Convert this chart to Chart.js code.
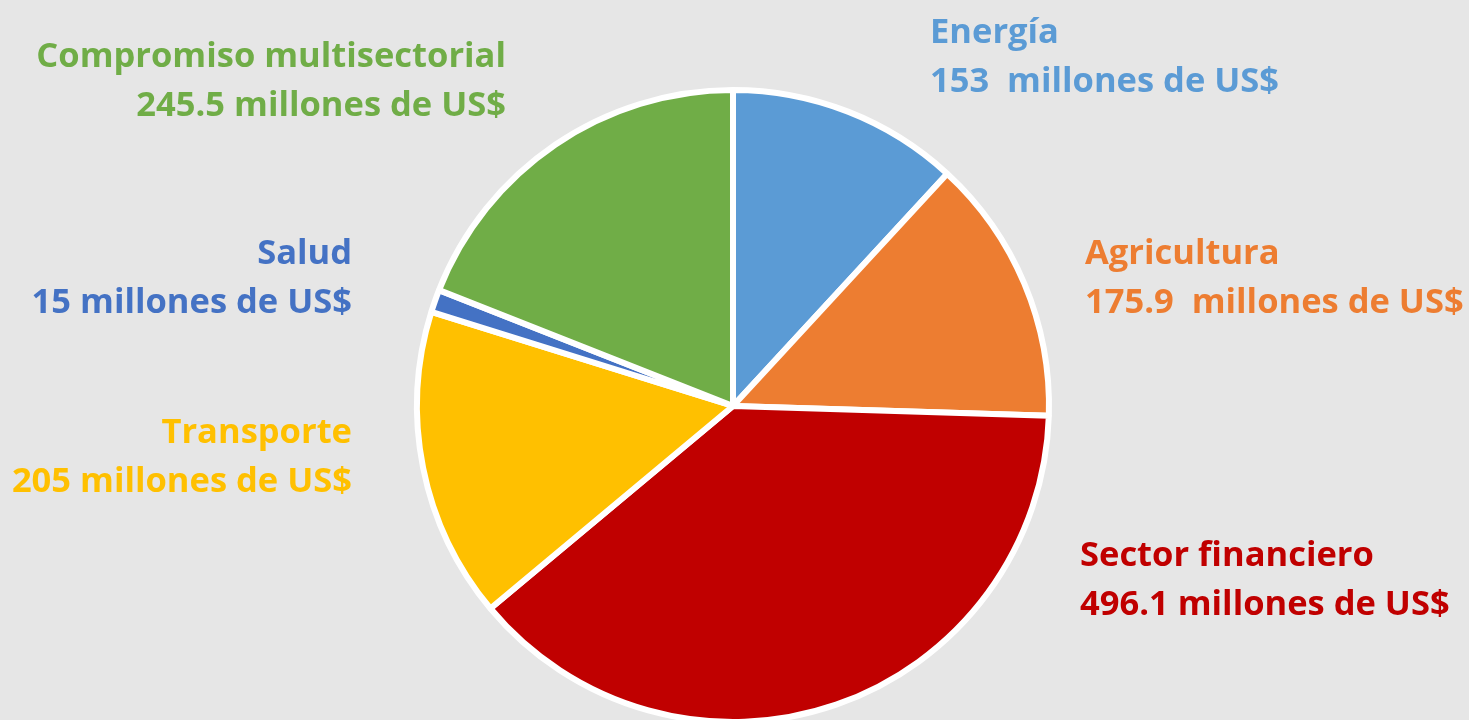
<!DOCTYPE html>
<html>
<head>
<meta charset="utf-8">
<script src="https://cdn.jsdelivr.net/npm/chart.js@4"></script>
<style>
  html, body { margin: 0; padding: 0; background: #e6e6e6; }
  #wrap { position: relative; width: 1469px; height: 720px; overflow: hidden; }
  #pie { position: absolute; left: 0; top: 0; }
  .lbl { position: absolute; font-family: "Open Sans", sans-serif; font-weight: 700;
         font-size: 34.5px; line-height: 48.5px; white-space: pre; }
</style>
</head>
<body>
<div id="wrap">
  <canvas id="pie" width="1469" height="720"></canvas>
</div>
<script>
// sectores y montos (millones de US$)
const sectors = ['Energía', 'Agricultura', 'Sector financiero', 'Transporte', 'Salud', 'Compromiso multisectorial'];
const amounts = [153, 175.9, 496.1, 205, 15, 245.5];
const amountText = ['153 ', '175.9 ', '496.1', '205', '15', '245.5'];
const colors = ['#5b9bd5', '#ed7d31', '#c00000', '#ffc000', '#4472c4', '#70ad47'];

// donde va cada etiqueta (x, y de la primera linea, alineacion)
const labelPos = [
  { x: 930, y: 6, align: 'left' },
  { x: 1085, y: 227, align: 'left' },
  { x: 1080, y: 529, align: 'left' },
  { x: 352, y: 406, align: 'right' },
  { x: 352, y: 227, align: 'right' },
  { x: 506, y: 30, align: 'right' }
];

const wrap = document.getElementById('wrap');
sectors.forEach(function (name, i) {
  const d = document.createElement('div');
  d.className = 'lbl';
  d.style.color = colors[i];
  d.style.top = labelPos[i].y + 'px';
  d.style.textAlign = labelPos[i].align;
  if (labelPos[i].align === 'left') {
    d.style.left = labelPos[i].x + 'px';
  } else {
    d.style.right = (1469 - labelPos[i].x) + 'px';
  }
  d.textContent = name + '\n' + amountText[i] + ' millones de US$';
  wrap.appendChild(d);
});

const pieCtx = document.getElementById('pie');
const pieChart = new Chart(pieCtx, {
  type: 'pie',
  data: {
    labels: sectors,
    datasets: [{
      data: amounts,
      backgroundColor: colors,
      borderColor: '#ffffff',
      borderWidth: 6
    }]
  },
  options: {
    responsive: false,
    animation: false,
    radius: 316,
    layout: { padding: { left: 0, right: 3, top: 92, bottom: 0 } },
    plugins: {
      legend: { display: false },
      tooltip: { enabled: false }
    }
  }
});
</script>
</body>
</html>
